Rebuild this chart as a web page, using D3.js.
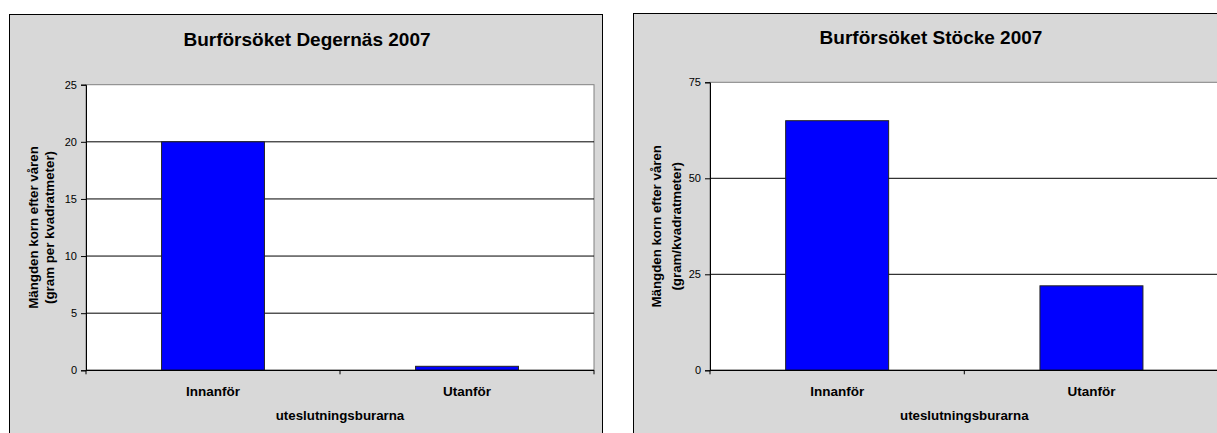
<!DOCTYPE html>
<html>
<head>
<meta charset="utf-8">
<script src="https://cdn.jsdelivr.net/npm/d3@7"></script>
<style>
  html, body { margin: 0; padding: 0; background: #ffffff; }
  svg { display: block; }
  text { font-family: "Liberation Sans", Arial, sans-serif; fill: #000; }
</style>
</head>
<body>
<svg id="chart" width="1217" height="433"></svg>
<script>
// Category labels shared by both cage trials
const categories = ["Innanför", "Utanför"];

// Grain left after spring (g per m²), Degernäs
const degernasValues = [20, 0.35];
const degernasTicks = [0, 5, 10, 15, 20, 25];

// Grain left after spring (g per m²), Stöcke
const stockeValues = [65, 22];
const stockeTicks = [0, 25, 50, 75];

const titles = ["Burförsöket Degernäs 2007", "Burförsöket Stöcke 2007"];
const xAxisTitle = "uteslutningsburarna";
const yTitleDegernas = ["Mängden korn efter våren", "(gram per kvadratmeter)"];
const yTitleStocke = ["Mängden korn efter våren", "(gram/kvadratmeter)"];

const svg = d3.select("#chart");

function drawPanel(opt) {
  const g = svg.append("g");

  // chart area
  g.append("rect")
    .attr("x", opt.box[0] + 0.5).attr("y", opt.box[1] + 0.5)
    .attr("width", opt.box[2]).attr("height", opt.box[3])
    .attr("fill", "#d8d8d8").attr("stroke", "#000").attr("stroke-width", 1);

  const [px0, px1, py0, py1] = opt.plot;

  const x = d3.scaleBand().domain(categories).range([px0, px1]).padding(0);
  const y = d3.scaleLinear().domain([0, d3.max(opt.ticks)]).range([py1, py0]);

  // plot area
  g.append("rect")
    .attr("x", px0).attr("y", py0)
    .attr("width", px1 - px0).attr("height", py1 - py0)
    .attr("fill", "#ffffff").attr("stroke", "#808080").attr("stroke-width", 1);

  // gridlines
  g.append("g").selectAll("line")
    .data(opt.ticks.filter(t => t > 0 && t < d3.max(opt.ticks)))
    .join("line")
    .attr("x1", px0).attr("x2", px1)
    .attr("y1", d => y(d)).attr("y2", d => y(d))
    .attr("stroke", "#000").attr("stroke-width", 1);

  // bars
  const barFrac = 0.405;
  const bw = x.bandwidth() * barFrac;
  g.append("g").selectAll("rect")
    .data(categories.map((c, i) => ({ c, v: opt.values[i] })))
    .join("rect")
    .attr("x", d => x(d.c) + (x.bandwidth() - bw) / 2)
    .attr("width", bw)
    .attr("y", d => y(d.v))
    .attr("height", d => y(0) - y(d.v))
    .attr("fill", "#0000ff")
    .attr("stroke", "#222").attr("stroke-width", 1);

  // y axis
  const yAxis = d3.axisLeft(y).tickValues(opt.ticks).tickSize(5).tickPadding(4)
    .tickFormat(d3.format("d"));
  const ya = g.append("g").attr("transform", `translate(${px0},0)`).call(yAxis);
  ya.select(".domain").attr("stroke", "#000");
  ya.selectAll(".tick line").attr("stroke", "#000");
  ya.selectAll(".tick text").attr("font-size", 11).attr("fill", "#000")
    .attr("font-family", '"Liberation Sans", Arial, sans-serif');

  // x axis line with ticks between categories
  g.append("line")
    .attr("x1", px0).attr("x2", px1).attr("y1", y(0)).attr("y2", y(0))
    .attr("stroke", "#000").attr("stroke-width", 1.2);
  const bounds = categories.map(c => x(c)).concat([px1]);
  g.append("g").selectAll("line").data(bounds).join("line")
    .attr("x1", d => d).attr("x2", d => d)
    .attr("y1", y(0)).attr("y2", y(0) + 4)
    .attr("stroke", "#000");

  // category labels
  g.append("g").selectAll("text").data(categories).join("text")
    .attr("x", d => x(d) + x.bandwidth() / 2)
    .attr("y", opt.catY)
    .attr("text-anchor", "middle")
    .attr("font-size", 13.5).attr("font-weight", "bold")
    .text(d => d);

  // x axis title
  g.append("text")
    .attr("x", (px0 + px1) / 2).attr("y", opt.xTitleY)
    .attr("text-anchor", "middle")
    .attr("font-size", 13.3).attr("font-weight", "bold")
    .text(xAxisTitle);

  // y axis title (two lines)
  const cy = (py0 + py1) / 2;
  opt.yTitle.forEach((line, i) => {
    g.append("text")
      .attr("transform", `translate(${opt.yTitleX[i]},${cy}) rotate(-90)`)
      .attr("text-anchor", "middle")
      .attr("font-size", 13.3).attr("font-weight", "bold")
      .text(line);
  });

  // chart title
  g.append("text")
    .attr("x", opt.titleX).attr("y", opt.titleY)
    .attr("text-anchor", "middle")
    .attr("font-size", 19).attr("font-weight", "bold")
    .text(opt.title);
}

drawPanel({
  box: [9, 14, 593, 440],
  plot: [86, 594, 84.7, 370.3],
  values: degernasValues,
  ticks: degernasTicks,
  title: titles[0],
  titleX: 307, titleY: 46,
  catY: 396, xTitleY: 420,
  yTitle: yTitleDegernas,
  yTitleX: [37.5, 53.5]
});

drawPanel({
  box: [633, 13, 595, 440],
  plot: [710, 1218.6, 82.3, 370.3],
  values: stockeValues,
  ticks: stockeTicks,
  title: titles[1],
  titleX: 931, titleY: 44,
  catY: 396, xTitleY: 420,
  yTitle: yTitleStocke,
  yTitleX: [660.5, 680.5]
});
</script>
</body>
</html>
